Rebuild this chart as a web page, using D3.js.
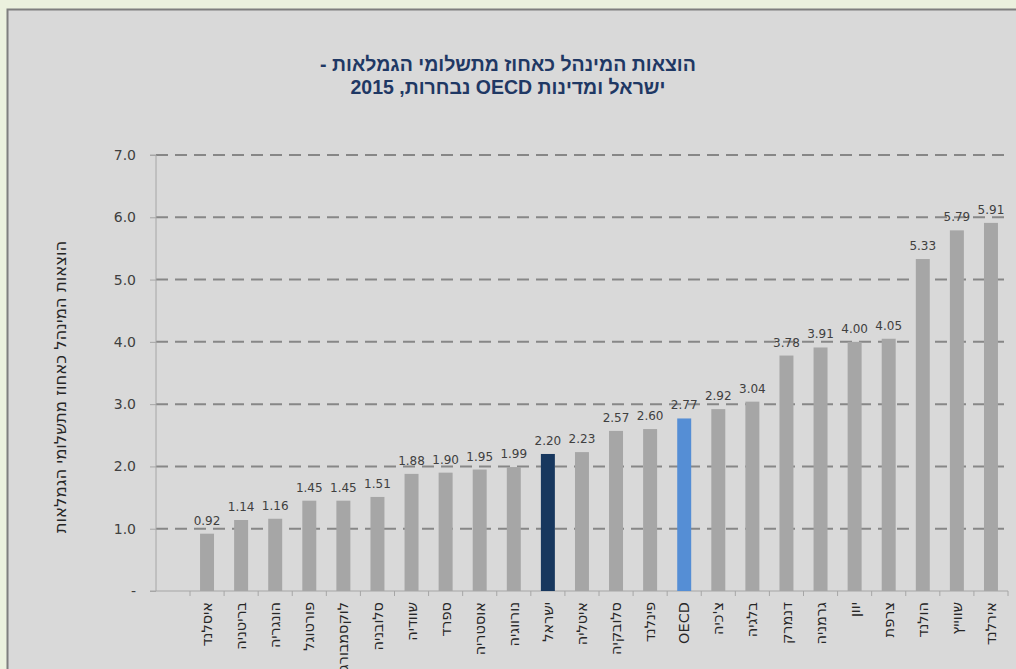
<html>
<head>
<meta charset="utf-8">
<script src="https://d3js.org/d3.v7.min.js"></script>
<style>
body { margin: 0; background: #ebf1de; }
svg { display: block; }
</style>
</head>
<body>
<div id="chart"></div>
<script>

var countries = ["איסלנד", "בריטניה", "הונגריה", "פורטוגל", "לוקסמבורג", "סלובניה", "שוודיה", "ספרד",
  "אוסטריה", "נורווגיה", "ישראל", "איטליה", "סלובקיה", "פינלנד", "OECD", "צ'כיה", "בלגיה", "דנמרק",
  "גרמניה", "יוון", "צרפת", "הולנד", "שווייץ", "אירלנד"];
var values = [0.92, 1.14, 1.16, 1.45, 1.45, 1.51, 1.88, 1.90, 1.95, 1.99, 2.20, 2.23, 2.57, 2.60,
  2.77, 2.92, 3.04, 3.78, 3.91, 4.00, 4.05, 5.33, 5.79, 5.91];
var yTicks = [0, 1, 2, 3, 4, 5, 6, 7];
var yTickLabels = ["-", "1.0", "2.0", "3.0", "4.0", "5.0", "6.0", "7.0"];
var titleLines = ["הוצאות המינהל כאחוז מתשלומי הגמלאות -", "ישראל ומדינות OECD נבחרות, 2015"];
var yTitle = "הוצאות המינהל כאחוז מתשלומי הגמלאות";

var W = 1016, H = 669;
var plotLeft = 156, plotRight = 1008, plotTop = 155, plotBottom = 591;
var firstBand = 190; // chart leaves one empty slot next to the axis

var svg = d3.select("#chart").append("svg")
  .attr("width", W).attr("height", H);

// chart panel
svg.append("rect")
  .attr("x", 7.5).attr("y", 9.5)
  .attr("width", W + 20).attr("height", H + 20)
  .attr("fill", "#d9d9d9")
  .attr("stroke", "#7f7f7f").attr("stroke-width", 2);

var y = d3.scaleLinear().domain([0, 7]).range([plotBottom, plotTop]);
var x = d3.scaleBand().domain(countries).range([firstBand, plotRight])
  .paddingInner(0.59).paddingOuter(0.295);

// dashed gridlines
svg.append("g").selectAll("line")
  .data(yTicks.filter(function(d) { return d > 0; }))
  .enter().append("line")
  .attr("x1", plotLeft).attr("x2", plotRight)
  .attr("y1", function(d) { return y(d); }).attr("y2", function(d) { return y(d); })
  .attr("stroke", "#878787").attr("stroke-width", 2)
  .attr("stroke-dasharray", "12,7");

// y axis
var yAxis = d3.axisLeft(y).tickValues(yTicks).tickSize(6).tickPadding(14)
  .tickFormat(function(d, i) { return yTickLabels[i]; });
var gy = svg.append("g").attr("transform", "translate(" + plotLeft + ",0)").call(yAxis);
gy.select(".domain").attr("stroke", "#a6a6a6").attr("d", "M-6," + plotTop + "H0V" + plotBottom + "H-6");
gy.selectAll(".tick line").attr("stroke", "#a6a6a6");
gy.selectAll(".tick text")
  .attr("font-family", "DejaVu Sans").attr("font-size", 14).attr("fill", "#404040");

// x axis baseline and band ticks
var step = x.step();
var gx = svg.append("g");
gx.append("line")
  .attr("x1", plotLeft).attr("x2", plotRight)
  .attr("y1", plotBottom).attr("y2", plotBottom)
  .attr("stroke", "#a6a6a6").attr("stroke-width", 1.2);
gx.selectAll(".xt")
  .data(countries)
  .enter().append("line")
  .attr("class", "xt")
  .attr("x1", function(d) { return x(d) - x.paddingOuter() * step + step; })
  .attr("x2", function(d) { return x(d) - x.paddingOuter() * step + step; })
  .attr("y1", plotBottom).attr("y2", plotBottom + 5)
  .attr("stroke", "#a6a6a6");
gx.append("line")
  .attr("x1", firstBand).attr("x2", firstBand)
  .attr("y1", plotBottom).attr("y2", plotBottom + 5)
  .attr("stroke", "#a6a6a6");

// bars
function barColor(name) {
  if (name === "ישראל") return "#17375e";
  if (name === "OECD") return "#558ed5";
  return "#a6a6a6";
}
svg.append("g").selectAll("rect")
  .data(countries)
  .enter().append("rect")
  .attr("x", function(d) { return x(d); })
  .attr("width", x.bandwidth())
  .attr("y", function(d, i) { return y(values[i]); })
  .attr("height", function(d, i) { return plotBottom - y(values[i]); })
  .attr("fill", function(d) { return barColor(d); });

// value labels
svg.append("g").selectAll("text")
  .data(countries)
  .enter().append("text")
  .attr("x", function(d) { return x(d) + x.bandwidth() / 2; })
  .attr("y", function(d, i) { return y(values[i]) - 9; })
  .attr("text-anchor", "middle")
  .attr("font-family", "DejaVu Sans").attr("font-size", 12).attr("fill", "#404040")
  .text(function(d, i) { return values[i].toFixed(2); });

// category labels, rotated
svg.append("g").selectAll("text")
  .data(countries)
  .enter().append("text")
  .attr("transform", function(d) {
    return "translate(" + (x(d) + x.bandwidth() / 2) + "," + (plotBottom + 11) + ") rotate(-90)";
  })
  .attr("direction", "rtl")
  .attr("text-anchor", "start")
  .attr("dy", "0.35em")
  .attr("font-family", "DejaVu Sans").attr("font-size", 14.5).attr("fill", "#262626")
  .text(function(d) { return d; });

// y axis title
svg.append("text")
  .attr("transform", "translate(60,387) rotate(-90)")
  .attr("direction", "rtl")
  .attr("text-anchor", "middle")
  .attr("dy", "0.35em")
  .attr("font-family", "DejaVu Sans").attr("font-size", 16.5).attr("fill", "#262626")
  .text(yTitle);

// title
svg.append("g").selectAll("text")
  .data(titleLines)
  .enter().append("text")
  .attr("x", 508)
  .attr("y", function(d, i) { return 71 + i * 23; })
  .attr("direction", "rtl")
  .attr("text-anchor", "middle")
  .attr("font-family", "Liberation Sans").attr("font-weight", "bold")
  .attr("font-size", 19.5).attr("fill", "#1f3864")
  .text(function(d) { return d; });

</script>
</body>
</html>
